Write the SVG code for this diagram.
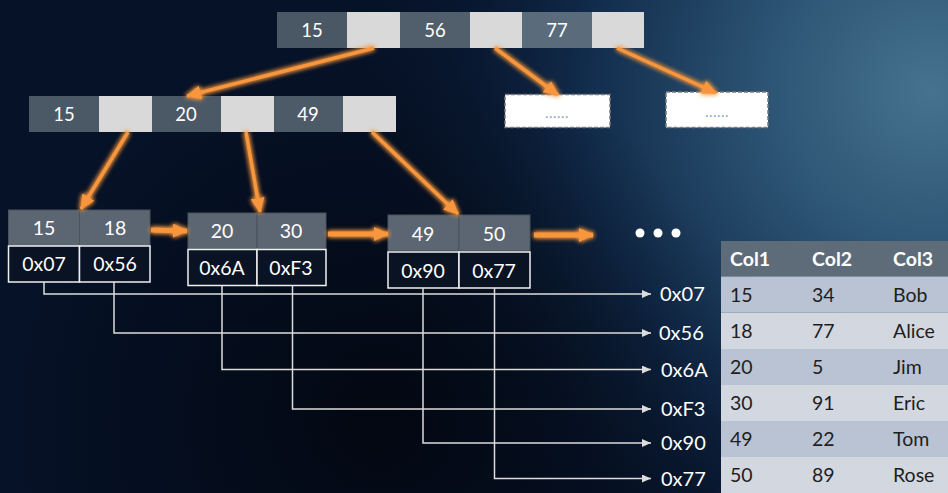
<svg xmlns="http://www.w3.org/2000/svg" width="948" height="493" viewBox="0 0 948 493">
<defs>
<radialGradient id="bg1" cx="930" cy="90" r="580" gradientUnits="userSpaceOnUse">
<stop offset="0" stop-color="#46728f"/>
<stop offset="0.3" stop-color="#2b5272"/>
<stop offset="0.6" stop-color="#112b4b"/>
<stop offset="1" stop-color="#061228" stop-opacity="0"/>
</radialGradient>
<radialGradient id="bg2" cx="380" cy="420" r="380" gradientUnits="userSpaceOnUse">
<stop offset="0" stop-color="#02050c" stop-opacity="0.8"/>
<stop offset="1" stop-color="#02050c" stop-opacity="0"/>
</radialGradient>
<filter id="glow" x="-20%" y="-20%" width="140%" height="140%">
<feGaussianBlur in="SourceGraphic" stdDeviation="2.6" result="b"/>
<feMerge><feMergeNode in="b"/><feMergeNode in="b"/><feMergeNode in="SourceGraphic"/></feMerge>
</filter>
<marker id="oh" markerWidth="16" markerHeight="14" refX="14" refY="7" orient="auto" markerUnits="userSpaceOnUse">
<path d="M0,0 L15,7 L0,14 z" fill="#f7963c"/>
</marker>
<marker id="wh" markerWidth="10" markerHeight="8" refX="9" refY="4" orient="auto" markerUnits="userSpaceOnUse">
<path d="M0,0 L9,4 L0,8 z" fill="#dcdcdc"/>
</marker>
<style>
text{font-family:Lato,"Open Sans","Liberation Sans",sans-serif}
.p{fill:#d9d9d9}
.t{fill:#fff;font-size:18.5px;text-anchor:middle}
.tl{fill:#fff;font-size:19.5px;text-anchor:middle}
.lt{fill:#5b6672;stroke:#4a535d;stroke-width:1}
.lb{fill:#0a1324;stroke:#f0f0f0;stroke-width:1.5}
.dash{fill:#fff;stroke:#7a7a7a;stroke-width:1.5;stroke-dasharray:4 2}
.dots{fill:#8eaadb;font-size:15px;text-anchor:middle;letter-spacing:0.5px}
.o{stroke:#f7963c;stroke-width:3.5;fill:none;marker-end:url(#oh)}
.ob{stroke:#f7963c;stroke-width:5;fill:none;marker-end:url(#oh)}
.w{stroke:#dcdcdc;stroke-width:1.5;fill:none;marker-end:url(#wh)}
.lab{fill:#fff;font-size:20px}
.hd{fill:#fff;font-size:19.5px;font-weight:bold}
.cd{fill:#1e1e1e;font-size:19.5px}
</style>
</defs>
<rect width="948" height="493" fill="#061228"/>
<rect width="948" height="493" fill="url(#bg1)"/>
<rect width="948" height="493" fill="url(#bg2)"/>

<g id="root">
<rect x="277" y="12" width="70" height="36" fill="#4a5866"/>
<rect x="347" y="12" width="53" height="36" class="p"/>
<rect x="400" y="12" width="70" height="36" fill="#515f6d"/>
<rect x="470" y="12" width="52" height="36" class="p"/>
<rect x="522" y="12" width="70" height="36" fill="#5a6b7b"/>
<rect x="592" y="12" width="52" height="36" class="p"/>
<text x="312" y="37" class="t">15</text>
<text x="435" y="37" class="t">56</text>
<text x="557" y="37" class="t">77</text>
</g>

<g id="inner">
<rect x="29" y="96" width="70" height="36" fill="#4b5866"/>
<rect x="99" y="96" width="53" height="36" class="p"/>
<rect x="152" y="96" width="69" height="36" fill="#4b5866"/>
<rect x="221" y="96" width="53" height="36" class="p"/>
<rect x="274" y="96" width="69" height="36" fill="#4d5a68"/>
<rect x="343" y="96" width="53" height="36" class="p"/>
<text x="64" y="121" class="t">15</text>
<text x="186" y="121" class="t">20</text>
<text x="308" y="121" class="t">49</text>
</g>

<g id="box1">
<rect x="505" y="94.5" width="105" height="33" class="dash"/>
<text x="557" y="118" class="dots">......</text>
</g>
<g id="box2">
<rect x="666" y="92" width="102" height="35.5" class="dash"/>
<text x="717" y="117" class="dots">......</text>
</g>

<g id="leaf1">
<rect x="8.5" y="210" width="71" height="36" class="lt"/>
<rect x="79.5" y="210" width="70.5" height="36" class="lt"/>
<rect x="8.5" y="246" width="71" height="36" class="lb"/>
<rect x="79.5" y="246" width="70.5" height="36" class="lb"/>
<text x="44" y="235" class="tl">15</text>
<text x="115" y="235" class="tl">18</text>
<text x="44" y="271" class="tl">0x07</text>
<text x="115" y="271" class="tl">0x56</text>
</g>

<g id="leaf2">
<rect x="188" y="213" width="69" height="36" class="lt"/>
<rect x="257" y="213" width="69" height="36" class="lt"/>
<rect x="188" y="249.5" width="69" height="36" class="lb"/>
<rect x="257" y="249.5" width="69" height="36" class="lb"/>
<text x="222" y="238" class="tl">20</text>
<text x="291" y="238" class="tl">30</text>
<text x="222" y="275" class="tl">0x6A</text>
<text x="291" y="275" class="tl">0xF3</text>
</g>

<g id="leaf3">
<rect x="388" y="215" width="71" height="36" class="lt"/>
<rect x="459" y="215" width="71" height="36" class="lt"/>
<rect x="388" y="252" width="71" height="36" class="lb"/>
<rect x="459" y="252" width="71" height="36" class="lb"/>
<text x="423" y="241" class="tl">49</text>
<text x="494" y="241" class="tl">50</text>
<text x="423" y="278" class="tl">0x90</text>
<text x="494" y="278" class="tl">0x77</text>
</g>

<g id="more">
<circle cx="640" cy="233" r="4.5" fill="#fff"/>
<circle cx="658" cy="233" r="4.5" fill="#fff"/>
<circle cx="676" cy="233" r="4.5" fill="#fff"/>
</g>

<g id="connectors">
<g filter="url(#glow)">
<line x1="374" y1="48" x2="187" y2="96" class="o"/>
<line x1="495" y1="48" x2="558" y2="95" class="o"/>
<line x1="617" y1="48" x2="716" y2="93" class="o"/>
<line x1="128" y1="132" x2="81" y2="209" class="o"/>
<line x1="246" y1="132" x2="260" y2="212" class="o"/>
<line x1="372" y1="132" x2="458" y2="214" class="o"/>
<line x1="151" y1="230" x2="187" y2="231" class="ob"/>
<line x1="328" y1="234" x2="388" y2="234" class="ob"/>
<line x1="534" y1="235" x2="593" y2="235" class="ob"/>
</g>
<polyline points="44,282 44,294 651,294" class="w"/>
<polyline points="114,282 114,333 651,333" class="w"/>
<polyline points="222,285.5 222,369.5 651,369.5" class="w"/>
<polyline points="292.5,285.5 292.5,409 651,409" class="w"/>
<polyline points="423,288 423,443 651,443" class="w"/>
<polyline points="494.5,288 494.5,478.5 651,478.5" class="w"/>
</g>

<g id="addresses">
<text x="660" y="301" class="lab">0x07</text>
<text x="659" y="340" class="lab">0x56</text>
<text x="661" y="377" class="lab">0x6A</text>
<text x="661" y="416" class="lab">0xF3</text>
<text x="661" y="450" class="lab">0x90</text>
<text x="661" y="486" class="lab">0x77</text>
</g>

<g id="table">
<rect x="721" y="241" width="227" height="35.5" fill="#5e6c7a"/>
<rect x="721" y="276.5" width="227" height="36" fill="#b9c3d3"/>
<rect x="721" y="312.5" width="227" height="36.5" fill="#d3d7e0"/>
<rect x="721" y="349" width="227" height="36" fill="#b9c3d3"/>
<rect x="721" y="385" width="227" height="36" fill="#d3d7e0"/>
<rect x="721" y="421" width="227" height="36" fill="#b9c3d3"/>
<rect x="721" y="457" width="227" height="36" fill="#d3d7e0"/>
<text x="730" y="266" class="hd">Col1</text>
<text x="812" y="266" class="hd">Col2</text>
<text x="893" y="266" class="hd">Col3</text>
<text x="730" y="302" class="cd">15</text><text x="812" y="302" class="cd">34</text><text x="893" y="302" class="cd">Bob</text>
<text x="730" y="338" class="cd">18</text><text x="812" y="338" class="cd">77</text><text x="893" y="338" class="cd">Alice</text>
<text x="730" y="374" class="cd">20</text><text x="812" y="374" class="cd">5</text><text x="893" y="374" class="cd">Jim</text>
<text x="730" y="410" class="cd">30</text><text x="812" y="410" class="cd">91</text><text x="893" y="410" class="cd">Eric</text>
<text x="730" y="446" class="cd">49</text><text x="812" y="446" class="cd">22</text><text x="893" y="446" class="cd">Tom</text>
<text x="730" y="482" class="cd">50</text><text x="812" y="482" class="cd">89</text><text x="893" y="482" class="cd">Rose</text>
</g>
</svg>
